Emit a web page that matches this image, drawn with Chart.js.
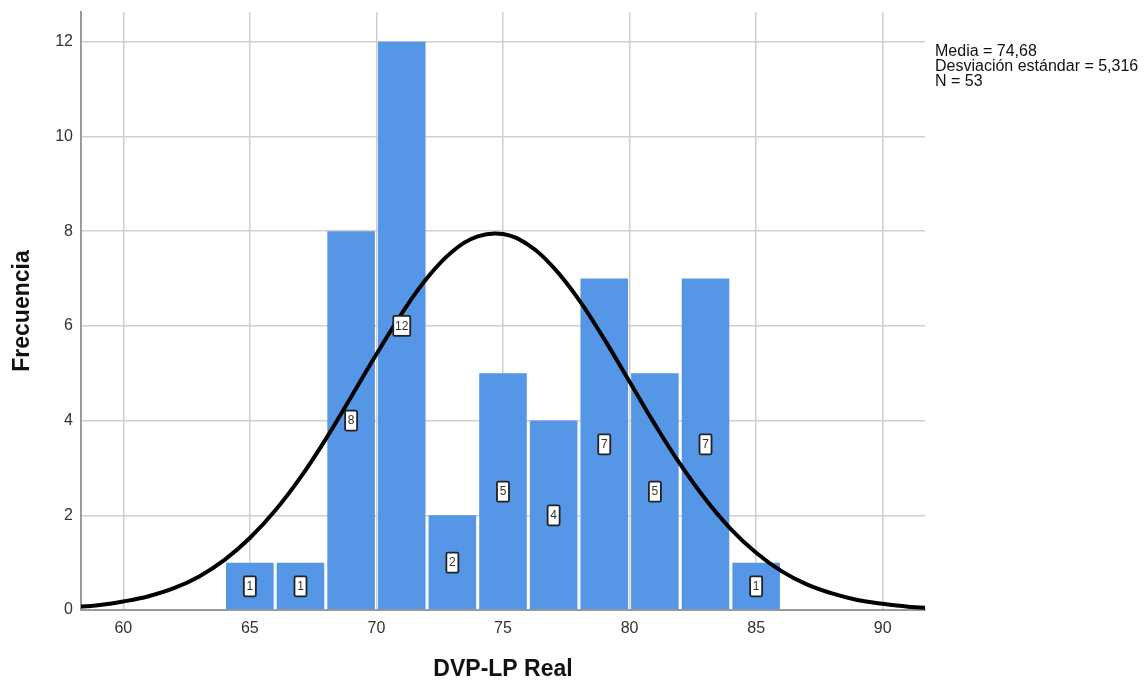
<!DOCTYPE html>
<html>
<head>
<meta charset="utf-8">
<script src="https://cdn.jsdelivr.net/npm/chart.js@4/dist/chart.umd.min.js"></script>
<style>
  html, body { margin: 0; padding: 0; background: #fff; }
  #wrap { width: 1146px; height: 684px; position: relative; }
</style>
</head>
<body>
<div id="wrap"><canvas id="hist"></canvas></div>
<script>
// Histograma de DVP-LP Real con curva normal superpuesta

// intervalos de ancho 2 (centro de cada barra) y su frecuencia
const binCenters = [65, 67, 69, 71, 73, 75, 77, 79, 81, 83, 85];
const binCounts = [1, 1, 8, 12, 2, 5, 4, 7, 5, 7, 1];

// curva normal leída sobre el eje X (frecuencia esperada)
const curveX = [58, 59, 60, 61, 62, 63, 64, 65, 66, 67, 68, 69, 70, 71, 72, 73, 74, 75,
                76, 77, 78, 79, 80, 81, 82, 83, 84, 85, 86, 87, 88, 89, 90, 91, 92];
const curveY = [0.06, 0.10, 0.18, 0.29, 0.46, 0.71, 1.06, 1.52, 2.10, 2.80, 3.61, 4.50,
                5.40, 6.26, 7.01, 7.57, 7.89, 7.94, 7.71, 7.23, 6.55, 5.72, 4.82, 3.92,
                3.08, 2.34, 1.71, 1.21, 0.82, 0.54, 0.35, 0.21, 0.13, 0.07, 0.04];

const xTicks = [60, 65, 70, 75, 80, 85, 90];
const yTicks = [0, 2, 4, 6, 8, 10, 12];

const statMean = "74,68";
const statSd = "5,316";
const statN = "53";

const FONT = "'Liberation Sans', Arial, sans-serif";

// recuadros blancos con la frecuencia, a media altura de cada barra
const countBoxes = {
    id: "countBoxes",
    afterDatasetsDraw(chart) {
        const meta = chart.getDatasetMeta(1);
        const yScale = chart.scales.y;
        const ctx = chart.ctx;
        ctx.save();
        ctx.font = "12px " + FONT;
        ctx.textAlign = "center";
        ctx.textBaseline = "middle";
        meta.data.forEach((bar, i) => {
            const txt = String(binCounts[i]);
            const cy = yScale.getPixelForValue(binCounts[i] / 2);
            const w = txt.length > 1 ? 17 : 12;
            const h = 20;
            ctx.fillStyle = "#fff";
            ctx.strokeStyle = "#222";
            ctx.lineWidth = 1.8;
            ctx.beginPath();
            ctx.roundRect(bar.x - w / 2, cy - h / 2, w, h, 1.5);
            ctx.fill();
            ctx.stroke();
            ctx.fillStyle = "#333";
            ctx.fillText(txt, bar.x, cy + 0.5);
        });
        ctx.restore();
    },
};

// texto de estadísticos a la derecha del gráfico
const statsText = {
    id: "statsText",
    afterDraw(chart) {
        const ctx = chart.ctx;
        const x = chart.chartArea.right + 10;
        const lines = [
            "Media = " + statMean,
            "Desviación estándar = " + statSd,
            "N = " + statN,
        ];
        ctx.save();
        ctx.font = "16px " + FONT;
        ctx.fillStyle = "#111";
        ctx.textAlign = "left";
        ctx.textBaseline = "alphabetic";
        lines.forEach((t, i) => ctx.fillText(t, x, 56 + i * 15));
        ctx.restore();
    },
};

new Chart(document.getElementById("hist"), {
    type: "bar",
    data: {
        datasets: [
            {
                type: "line",
                data: curveX.map((x, i) => ({ x, y: curveY[i] })),
                borderColor: "#000",
                borderWidth: 4,
                pointRadius: 0,
                tension: 0.4,
                fill: false,
                order: 0,
            },
            {
                type: "bar",
                data: binCenters.map((x, i) => ({ x, y: binCounts[i] })),
                backgroundColor: "#5596e6",
                borderWidth: 0,
                barPercentage: 0.94,
                categoryPercentage: 1,
                order: 1,
            },
        ],
    },
    options: {
        responsive: true,
        maintainAspectRatio: false,
        animation: false,
        layout: { padding: { top: 12, right: 221, left: 0, bottom: 0 } },
        plugins: { legend: { display: false }, tooltip: { enabled: false } },
        scales: {
            x: {
                type: "linear",
                offset: false,
                min: 58.33,
                max: 91.67,
                afterBuildTicks: (s) => { s.ticks = xTicks.map((v) => ({ value: v })); },
                afterFit: (s) => { s.height = 74; s.paddingLeft = 0; s.paddingRight = 0; },
                grid: { color: "#cfcfcf", lineWidth: 1.5, drawTicks: false, offset: false },
                border: { color: "#9a9a9a", width: 2 },
                ticks: { color: "#333", padding: 9, font: { family: FONT, size: 16 } },
                title: {
                    display: true,
                    text: "DVP-LP Real",
                    color: "#111",
                    padding: { top: 0, bottom: 1 },
                    font: { family: FONT, size: 23, weight: "bold" },
                },
            },
            y: {
                min: 0,
                max: 12.63,
                afterBuildTicks: (s) => { s.ticks = yTicks.map((v) => ({ value: v })); },
                afterFit: (s) => { s.width = 81; s.paddingTop = 0; s.paddingBottom = 0; },
                grid: { color: "#cfcfcf", lineWidth: 1.5, drawTicks: false },
                border: { color: "#9a9a9a", width: 2 },
                ticks: { color: "#333", padding: 8, font: { family: FONT, size: 16 } },
                title: {
                    display: true,
                    text: "Frecuencia",
                    color: "#111",
                    padding: { top: 9, bottom: 0 },
                    font: { family: FONT, size: 23, weight: "bold" },
                },
            },
        },
    },
    plugins: [countBoxes, statsText],
});
</script>
</body>
</html>
